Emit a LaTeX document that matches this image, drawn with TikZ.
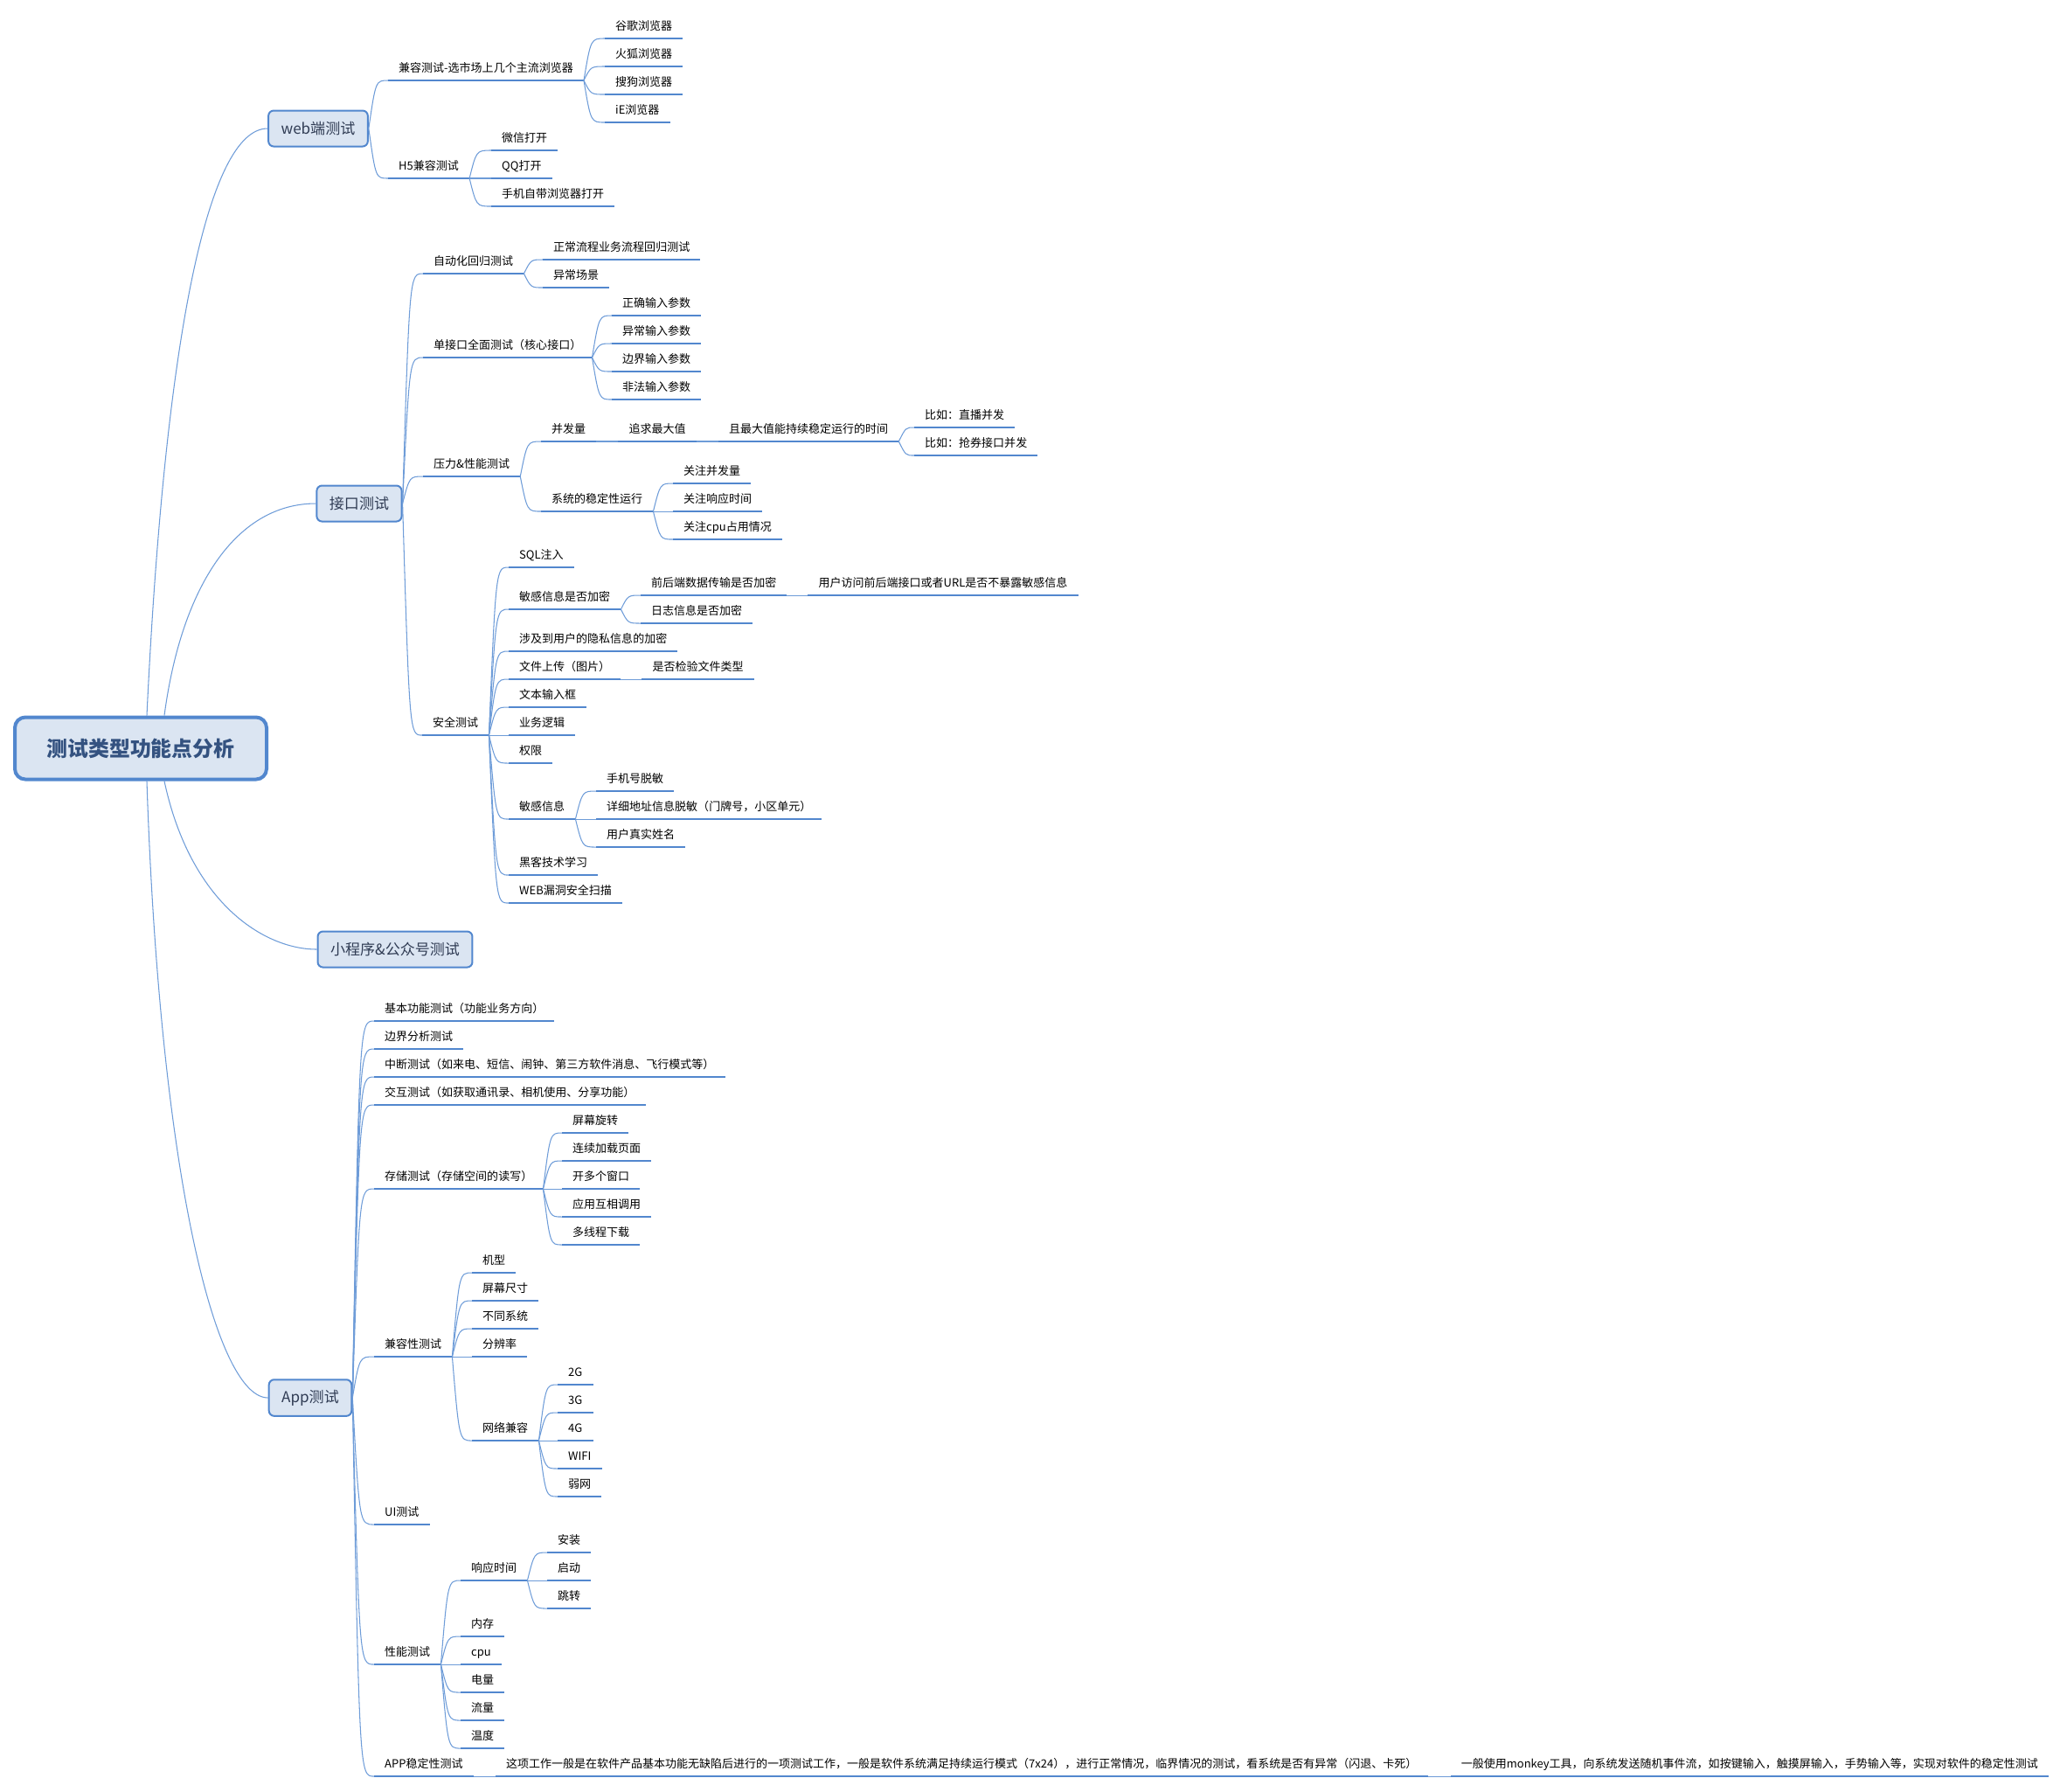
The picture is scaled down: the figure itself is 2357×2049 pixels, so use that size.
\documentclass[tikz,border=0pt]{standalone}
\usepackage{fontspec}
\setmainfont{Noto Sans CJK SC}
\usetikzlibrary{positioning,calc}
\definecolor{kuangdi}{RGB}{219,229,242}
\definecolor{kuangbian}{RGB}{82,135,206}
\definecolor{xianse}{RGB}{110,156,216}
\definecolor{zishen}{RGB}{48,60,84}
\definecolor{genzi}{RGB}{52,82,128}
\newcommand\yezi{\fontsize{3.7pt}{4.4pt}\selectfont}
\newcommand\zhuzi{\fontsize{4.85pt}{5.8pt}\selectfont}
\newcommand\genzihao{\fontsize{6.8pt}{8pt}\selectfont\bfseries}
\tikzset{
  gen/.style={draw=kuangbian,fill=kuangdi,line width=0.4mm,rounded corners=1.2mm,
    minimum width=28.8mm,minimum height=7.1mm,text=genzi,font=\genzihao},
  zhu/.style={draw=kuangbian,fill=kuangdi,line width=0.2mm,rounded corners=0.6mm,
    minimum height=4.1mm,inner xsep=1.45mm,text=zishen,font=\zhuzi},
  dixian/.style={draw=kuangbian,line width=0.8pt},
  ye/.style={anchor=south west,inner xsep=1.15mm,inner ysep=0.55mm,
    text height=1.2mm,text depth=0.33mm,font=\yezi,
    append after command={(\tikzlastnode.south west) edge[dixian] (\tikzlastnode.south east)}},
  xian/.style={draw=xianse,line width=0.3pt},
  cha/.style={to path={.. controls ([xshift=0.8mm]\tikztostart |- \tikztotarget) .. (\tikztotarget)}},
}
\begin{document}
\begin{tikzpicture}[x=0.1mm,y=-0.1mm]
  \useasboundingbox (0,0) rectangle (2357,2049);
  \node[gen] (gen) at (161,856) {测试类型功能点分析};
  \node[zhu] (web) at (364,147) {web端测试};
  \node[zhu] (jk) at (411,576) {接口测试};
  \node[zhu] (xcx) at (452,1086) {小程序\&公众号测试};
  \node[zhu] (app) at (355,1599) {App测试};
  \draw[xian] ([xshift=0.7mm]gen.north) .. controls +(20,-420) and +(-70,0) .. (web.west);
  \draw[xian] ([xshift=2.7mm]gen.north) .. controls +(20,-150) and +(-90,0) .. (jk.west);
  \draw[xian] ([xshift=2.7mm]gen.south) .. controls +(30,140) and +(-60,0) .. (xcx.west);
  \draw[xian] ([xshift=0.7mm]gen.south) .. controls +(15,450) and +(-60,0) .. (app.west);

  % web端测试
  \node[ye] (jr) at (444,92) {兼容测试-选市场上几个主流浏览器};
  \node[ye] (h5) at (444,204) {H5兼容测试};
  \node[ye] (gg) at (692,44) {谷歌浏览器};
  \node[ye] (hh) at (692,76) {火狐浏览器};
  \node[ye] (sg) at (692,108) {搜狗浏览器};
  \node[ye] (ie) at (692,140) {iE浏览器};
  \node[ye] (wx) at (562,172) {微信打开};
  \node[ye] (qq) at (562,204) {QQ打开};
  \node[ye] (sj) at (562,236) {手机自带浏览器打开};
  \foreach \n in {jr,h5} \draw[xian] (web.east) to[cha] (\n.south west);
  \foreach \n in {gg,hh,sg,ie} \draw[xian] (jr.south east) to[cha] (\n.south west);
  \foreach \n in {wx,qq,sj} \draw[xian] (h5.south east) to[cha] (\n.south west);

  % 接口测试
  \node[ye] (zdh) at (484,313) {自动化回归测试};
  \node[ye] (zc) at (621,297) {正常流程业务流程回归测试};
  \node[ye] (yc) at (621,329) {异常场景};
  \node[ye] (dj) at (484,409) {单接口全面测试（核心接口）};
  \node[ye] (zq) at (700,361) {正确输入参数};
  \node[ye] (yi) at (700,393) {异常输入参数};
  \node[ye] (bj) at (700,425) {边界输入参数};
  \node[ye] (ff) at (700,457) {非法输入参数};
  \node[ye] (yl) at (484,545) {压力\&性能测试};
  \node[ye] (bfl) at (619,505) {并发量};
  \node[ye,right=2.5mm of bfl] (zqz) {追求最大值};
  \node[ye,right=2.5mm of zqz] (qzd) {且最大值能持续稳定运行的时间};
  \node[ye] (zb) at (1046,489) {比如：直播并发};
  \node[ye] (qj) at (1046,521) {比如：抢券接口并发};
  \node[ye] (wd) at (619,585) {系统的稳定性运行};
  \node[ye] (gz1) at (770,553) {关注并发量};
  \node[ye] (gz2) at (770,585) {关注响应时间};
  \node[ye] (gz3) at (770,617) {关注cpu占用情况};
  \node[ye] (aq) at (483,841) {安全测试};
  \node[ye] (sql) at (582,649) {SQL注入};
  \node[ye] (mg) at (582,697) {敏感信息是否加密};
  \node[ye] (qh) at (733,681) {前后端数据传输是否加密};
  \node[ye,right=2.4mm of qh] (yh) {用户访问前后端接口或者URL是否不暴露敏感信息};
  \node[ye] (rz) at (733,713) {日志信息是否加密};
  \node[ye] (ys) at (582,745) {涉及到用户的隐私信息的加密};
  \node[ye] (wj) at (582,777) {文件上传（图片）};
  \node[ye,right=2.4mm of wj] (jy) {是否检验文件类型};
  \node[ye] (wb) at (582,809) {文本输入框};
  \node[ye] (yw) at (582,841) {业务逻辑};
  \node[ye] (qx) at (582,873) {权限};
  \node[ye] (mx) at (582,937) {敏感信息};
  \node[ye] (tm) at (682,905) {手机号脱敏};
  \node[ye] (dz) at (682,937) {详细地址信息脱敏（门牌号，小区单元）};
  \node[ye] (xm) at (682,969) {用户真实姓名};
  \node[ye] (hk) at (582,1001) {黑客技术学习};
  \node[ye] (ld) at (582,1033) {WEB漏洞安全扫描};
  \foreach \n in {zdh,dj,yl,aq} \draw[xian] (jk.east) to[cha] (\n.south west);
  \foreach \n in {zc,yc} \draw[xian] (zdh.south east) to[cha] (\n.south west);
  \foreach \n in {zq,yi,bj,ff} \draw[xian] (dj.south east) to[cha] (\n.south west);
  \foreach \n in {bfl,wd} \draw[xian] (yl.south east) to[cha] (\n.south west);
  \draw[xian] (bfl.south east) -- (zqz.south west);
  \draw[xian] (zqz.south east) -- (qzd.south west);
  \foreach \n in {zb,qj} \draw[xian] (qzd.south east) to[cha] (\n.south west);
  \foreach \n in {gz1,gz2,gz3} \draw[xian] (wd.south east) to[cha] (\n.south west);
  \foreach \n in {sql,mg,ys,wj,wb,yw,qx,mx,hk,ld} \draw[xian] (aq.south east) to[cha] (\n.south west);
  \foreach \n in {qh,rz} \draw[xian] (mg.south east) to[cha] (\n.south west);
  \draw[xian] (qh.south east) -- (yh.south west);
  \draw[xian] (wj.south east) -- (jy.south west);
  \foreach \n in {tm,dz,xm} \draw[xian] (mx.south east) to[cha] (\n.south west);

  % App测试
  \node[ye] (a1) at (428,1168) {基本功能测试（功能业务方向）};
  \node[ye] (a2) at (428,1200) {边界分析测试};
  \node[ye] (a3) at (428,1232) {中断测试（如来电、短信、闹钟、第三方软件消息、飞行模式等）};
  \node[ye] (a4) at (428,1264) {交互测试（如获取通讯录、相机使用、分享功能）};
  \node[ye] (a5) at (428,1360) {存储测试（存储空间的读写）};
  \node[ye] (s1) at (643,1296) {屏幕旋转};
  \node[ye] (s2) at (643,1328) {连续加载页面};
  \node[ye] (s3) at (643,1360) {开多个窗口};
  \node[ye] (s4) at (643,1392) {应用互相调用};
  \node[ye] (s5) at (643,1424) {多线程下载};
  \node[ye] (a6) at (428,1552) {兼容性测试};
  \node[ye] (c1) at (540,1456) {机型};
  \node[ye] (c2) at (540,1488) {屏幕尺寸};
  \node[ye] (c3) at (540,1520) {不同系统};
  \node[ye] (c4) at (540,1552) {分辨率};
  \node[ye] (c5) at (540,1648) {网络兼容};
  \node[ye] (n1) at (638,1584) {2G};
  \node[ye] (n2) at (638,1616) {3G};
  \node[ye] (n3) at (638,1648) {4G};
  \node[ye] (n4) at (638,1680) {WIFI};
  \node[ye] (n5) at (638,1712) {弱网};
  \node[ye] (a7) at (428,1744) {UI测试};
  \node[ye] (a8) at (428,1904) {性能测试};
  \node[ye] (p1) at (527,1808) {响应时间};
  \node[ye] (r1) at (626,1776) {安装};
  \node[ye] (r2) at (626,1808) {启动};
  \node[ye] (r3) at (626,1840) {跳转};
  \node[ye] (p2) at (527,1872) {内存};
  \node[ye] (p3) at (527,1904) {cpu};
  \node[ye] (p4) at (527,1936) {电量};
  \node[ye] (p5) at (527,1968) {流量};
  \node[ye] (p6) at (527,2000) {温度};
  \node[ye] (a9) at (428,2032) {APP稳定性测试};
  \node[ye,right=2.5mm of a9] (wt) {这项工作一般是在软件产品基本功能无缺陷后进行的一项测试工作，一般是软件系统满足持续运行模式（7x24），进行正常情况，临界情况的测试，看系统是否有异常（闪退、卡死）};
  \node[ye,right=2.6mm of wt] (mk) {一般使用monkey工具，向系统发送随机事件流，如按键输入，触摸屏输入，手势输入等，实现对软件的稳定性测试};
  \foreach \n in {a1,a2,a3,a4,a5,a6,a7,a8,a9} \draw[xian] (app.east) to[cha] (\n.south west);
  \foreach \n in {s1,s2,s3,s4,s5} \draw[xian] (a5.south east) to[cha] (\n.south west);
  \foreach \n in {c1,c2,c3,c4,c5} \draw[xian] (a6.south east) to[cha] (\n.south west);
  \foreach \n in {n1,n2,n3,n4,n5} \draw[xian] (c5.south east) to[cha] (\n.south west);
  \foreach \n in {p1,p2,p3,p4,p5,p6} \draw[xian] (a8.south east) to[cha] (\n.south west);
  \foreach \n in {r1,r2,r3} \draw[xian] (p1.south east) to[cha] (\n.south west);
  \draw[xian] (a9.south east) -- (wt.south west);
  \draw[xian] (wt.south east) -- (mk.south west);
\end{tikzpicture}
\end{document}
